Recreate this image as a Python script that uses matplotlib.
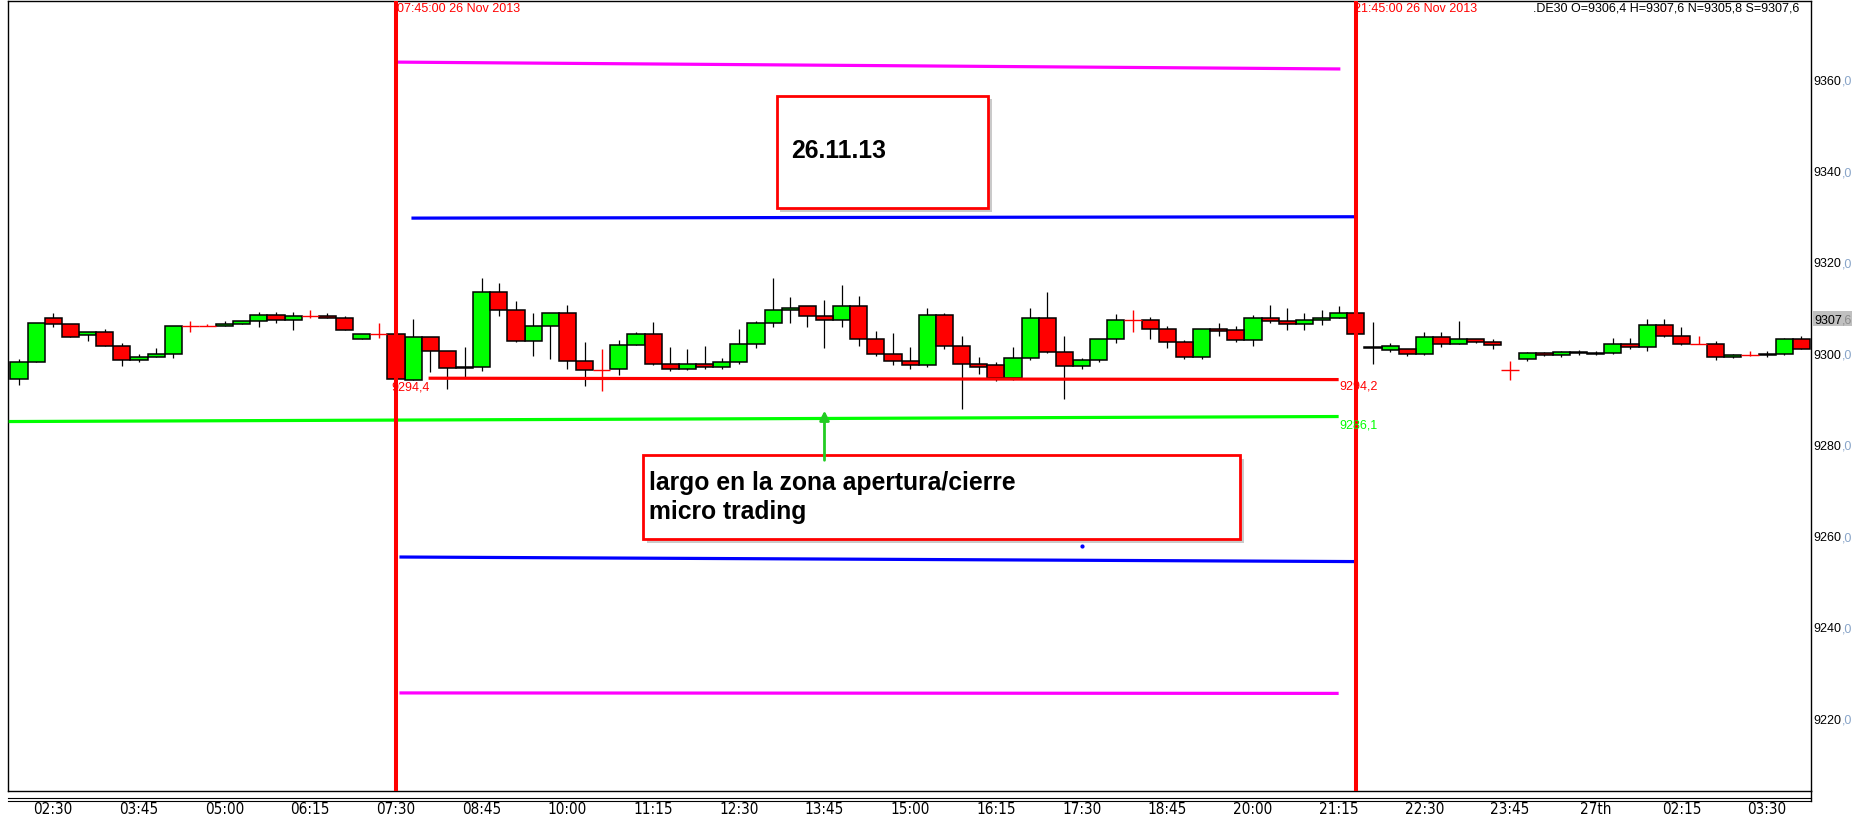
import numpy as np
import matplotlib
matplotlib.use('Agg')
import matplotlib.pyplot as plt
import matplotlib.transforms as mtransforms
from matplotlib.patches import Rectangle
from matplotlib.lines import Line2D
from matplotlib import font_manager

plt.rcParams['font.family'] = ['Liberation Sans', 'DejaVu Sans']

##! Data: DE30 15-minute bars, 26 Nov 2013 02:15 -> 27 Nov 03:45
opens = [9294.3, 9298.0, 9307.6, 9306.4, 9304.0, 9304.6, 9301.5, 9298.6, 9299.1, 9299.7,
         9305.9, 9305.9, 9305.9, 9306.4, 9307.0, 9308.3, 9307.2, 9308.1, 9308.1, 9307.6,
         9303.2, 9304.1, 9304.1, 9294.1, 9303.5, 9300.4, 9296.9, 9296.9, 9313.3, 9309.4,
         9302.7, 9305.9, 9308.7, 9298.2, 9296.3, 9296.6, 9301.8, 9304.3, 9297.7, 9296.6,
         9297.6, 9297.0, 9298.0, 9301.9, 9306.6, 9309.4, 9310.3, 9308.2, 9307.2, 9310.3,
         9303.0, 9299.7, 9298.3, 9297.4, 9308.3, 9301.5, 9297.6, 9297.4, 9294.6, 9299.0,
         9307.8, 9300.3, 9297.2, 9298.6, 9303.2, 9307.2, 9307.2, 9305.3, 9302.4, 9299.2,
         9305.2, 9305.1, 9302.8, 9307.8, 9307.0, 9306.3, 9307.2, 9307.8, 9308.7, 9301.4,
         9300.6, 9300.8, 9299.8, 9303.5, 9302.1, 9303.0, 9302.4, 9296.4, 9298.7, 9300.0,
         9299.6, 9300.2, 9299.8, 9300.1, 9301.9, 9301.3, 9306.1, 9303.8, 9301.9, 9301.9,
         9299.2, 9299.5, 9299.5, 9299.7, 9303.2]
highs = [9298.7, 9306.6, 9308.8, 9306.4, 9304.6, 9305.3, 9302.2, 9299.8, 9301.1, 9305.9,
         9307.0, 9306.4, 9307.0, 9307.0, 9309.1, 9309.0, 9309.1, 9309.5, 9308.8, 9308.1,
         9304.1, 9306.7, 9304.1, 9307.5, 9303.5, 9300.4, 9301.3, 9316.5, 9315.4, 9311.4,
         9308.8, 9308.9, 9310.5, 9302.5, 9300.9, 9302.9, 9304.7, 9306.8, 9301.3, 9301.0,
         9301.6, 9299.0, 9305.3, 9307.0, 9316.5, 9312.3, 9310.3, 9311.6, 9314.9, 9312.5,
         9304.8, 9304.4, 9301.3, 9309.9, 9308.7, 9303.8, 9299.2, 9298.0, 9301.3, 9309.9,
         9313.3, 9303.7, 9298.9, 9303.2, 9308.6, 9309.5, 9307.9, 9305.9, 9302.9, 9305.2,
         9306.6, 9305.9, 9308.3, 9310.5, 9309.9, 9308.8, 9309.5, 9310.3, 9308.9, 9306.8,
         9302.2, 9301.0, 9304.6, 9304.6, 9307.0, 9303.1, 9303.1, 9298.2, 9300.3, 9300.2,
         9300.4, 9300.6, 9300.5, 9303.3, 9303.3, 9307.5, 9307.5, 9305.7, 9303.8, 9302.6,
         9299.8, 9300.5, 9300.4, 9303.4, 9303.7]
lows = [9293.0, 9298.0, 9305.8, 9303.5, 9302.7, 9301.5, 9297.2, 9298.0, 9299.1, 9299.0,
        9304.6, 9305.9, 9305.9, 9306.4, 9305.8, 9306.5, 9305.1, 9307.7, 9307.6, 9305.1,
        9303.2, 9303.4, 9294.4, 9294.1, 9295.8, 9292.1, 9294.7, 9296.1, 9308.2, 9302.4,
        9299.4, 9298.7, 9296.5, 9292.7, 9291.8, 9295.1, 9301.8, 9297.3, 9296.0, 9296.2,
        9296.5, 9296.6, 9297.6, 9301.2, 9305.8, 9306.7, 9305.8, 9301.2, 9305.8, 9301.6,
        9299.3, 9297.5, 9296.5, 9296.9, 9301.0, 9287.8, 9295.5, 9293.9, 9294.2, 9298.5,
        9300.0, 9289.9, 9296.5, 9298.0, 9302.2, 9304.7, 9303.1, 9301.2, 9298.8, 9298.8,
        9303.8, 9302.5, 9301.6, 9306.6, 9305.1, 9305.1, 9306.2, 9307.8, 9304.3, 9297.6,
        9300.2, 9299.4, 9299.5, 9301.4, 9302.0, 9302.2, 9300.9, 9294.0, 9298.2, 9299.3,
        9299.2, 9299.6, 9299.5, 9299.8, 9301.0, 9300.5, 9303.6, 9301.7, 9301.9, 9298.6,
        9298.9, 9299.3, 9299.2, 9299.5, 9300.8]
closes = [9298.0, 9306.6, 9306.4, 9303.5, 9304.6, 9301.5, 9298.6, 9299.1, 9299.7, 9305.9,
          9305.9, 9305.9, 9306.4, 9307.0, 9308.3, 9307.2, 9308.1, 9308.1, 9307.6, 9305.1,
          9304.1, 9304.1, 9294.4, 9303.5, 9300.4, 9296.7, 9296.7, 9313.5, 9309.4, 9302.7,
          9305.9, 9308.7, 9298.2, 9296.3, 9296.3, 9301.8, 9304.3, 9297.7, 9296.6, 9297.6,
          9297.0, 9298.0, 9301.9, 9306.7, 9309.4, 9310.0, 9308.2, 9307.2, 9310.3, 9303.0,
          9299.7, 9298.3, 9297.4, 9308.3, 9301.5, 9297.6, 9296.9, 9294.6, 9299.0, 9307.8,
          9300.3, 9297.2, 9298.6, 9303.0, 9307.2, 9307.2, 9305.3, 9302.4, 9299.2, 9305.2,
          9304.8, 9302.8, 9307.8, 9307.0, 9306.3, 9307.2, 9307.8, 9308.7, 9304.3, 9301.2,
          9301.6, 9299.8, 9303.5, 9302.1, 9303.0, 9302.4, 9301.7, 9296.4, 9300.0, 9299.6,
          9300.2, 9300.0, 9300.1, 9301.9, 9301.3, 9306.1, 9303.8, 9301.9, 9301.9, 9299.2,
          9299.5, 9299.5, 9299.8, 9303.2, 9301.0]

xtick_pos = list(range(2, 105, 5))
xtick_labels = ['02:30', '03:45', '05:00', '06:15', '07:30', '08:45', '10:00', '11:15',
                '12:30', '13:45', '15:00', '16:15', '17:30', '18:45', '20:00', '21:15',
                '22:30', '23:45', '27th', '02:15', '03:30']
ytick_vals = [9220, 9240, 9260, 9280, 9300, 9320, 9340, 9360]

session_bars = [22, 78]
session_text = ['07:45:00 26 Nov 2013', '21:45:00 26 Nov 2013']

# hand-drawn levels: (bar start, bar end), (price start, price end)
lvl_magenta_top = ([22.06, 77.1], [9363.8, 9362.3])
lvl_blue_top = ([22.9, 78.0], [9329.6, 9329.9])
lvl_red = ([23.9, 77.0], [9294.5, 9294.2])
lvl_green = ([-0.6, 77.0], [9285.0, 9286.1])
lvl_blue_bot = ([22.2, 77.9], [9255.3, 9254.3])
lvl_magenta_bot = ([22.2, 77.0], [9225.5, 9225.4])

last_price = 9307.6
info_text = '.DE30 O=9306,4 H=9307,6 N=9305,8 S=9307,6'
note_date = '26.11.13'
note_lines = ['largo en la zona apertura/cierre', 'micro trading']

##! Figure
W, H = 1857, 820
fig = plt.figure(figsize=(W / 100, H / 100), dpi=100)
ax = fig.add_axes([8 / W, 28 / H, 1803 / W, 790 / H])
ax.set_xlim(-0.64, 104.56)
ax.set_ylim(9204.0, 9377.2)
for sp in ax.spines.values():
    sp.set_linewidth(1.0)

o = np.array(opens); h = np.array(highs); l = np.array(lows); c = np.array(closes)
x = np.arange(len(o))
doji = o == c
up = c > o
dn = c < o

#-- candles
ax.vlines(x[~doji], l[~doji], h[~doji], color='black', lw=0.9, zorder=2)
ax.bar(x[up], (c - o)[up], bottom=o[up], width=1.0, color='#00ff00',
       edgecolor='black', lw=1.1, zorder=3)
ax.bar(x[dn], (o - c)[dn], bottom=c[dn], width=1.0, color='#ff0000',
       edgecolor='black', lw=1.1, zorder=3)
ax.vlines(x[doji], l[doji], h[doji], color='#ff0000', lw=1.0, zorder=3)
ax.hlines(c[doji], x[doji] - 0.5, x[doji] + 0.5, color='#ff0000', lw=1.0, zorder=3)

#-- levels
for lv, col in [(lvl_magenta_top, '#ff00ff'), (lvl_blue_top, '#0000ff'),
                (lvl_red, '#ff0000'), (lvl_green, '#00ff00'),
                (lvl_blue_bot, '#0000ff'), (lvl_magenta_bot, '#ff00ff')]:
    ax.plot(lv[0], lv[1], color=col, lw=2.3, solid_capstyle='butt', zorder=4)

ax.text(21.7, 9292.6, '9294,4', color='#ff0000', fontsize=9, va='center', ha='left', zorder=6)
ax.text(77.05, 9292.8, '9294,2', color='#ff0000', fontsize=9, va='center', ha='left', zorder=6)
ax.text(77.05, 9284.4, '9286,1', color='#00ff00', fontsize=9, va='center', ha='left', zorder=6)

#-- session lines
xtr = ax.get_xaxis_transform()
for b, t, dx in zip(session_bars, session_text, [0.08, -0.1]):
    ax.axvline(b, color='#ff0000', lw=2.9, zorder=5)
    ax.text(b + dx, 0.999, t, transform=xtr, color='#ff0000', fontsize=9,
            va='top', ha='left', zorder=6)
ax.text(0.9933, 0.999, info_text, transform=ax.transAxes, fontsize=9,
        va='top', ha='right')

#-- note boxes
def note_box(x0, y0, w, hgt):
    ax.add_patch(Rectangle((x0 + 0.22, y0 - 0.8), w, hgt, facecolor='#a0a0a0',
                           edgecolor='none', alpha=0.55, zorder=6))
    ax.add_patch(Rectangle((x0, y0), w, hgt, facecolor='white',
                           edgecolor='#ff0000', lw=2.0, zorder=7))

note_box(44.21, 9331.75, 12.35, 24.68)
ax.text(45.03, 9345.1, note_date, fontsize=17.8, fontweight='bold',
        va='center_baseline', ha='left', zorder=8)
note_box(36.42, 9259.24, 34.82, 18.42)
ax.text(36.76, 9272.2, note_lines[0], fontsize=17.8, fontweight='bold',
        va='center_baseline', ha='left', zorder=8)
ax.text(36.76, 9265.97, note_lines[1], fontsize=17.8, fontweight='bold',
        va='center_baseline', ha='left', zorder=8)

ax.annotate('', xy=(47.0, 9288.0), xytext=(47.0, 9275.9),
            arrowprops=dict(arrowstyle='-|>', color='#22cc22', lw=2.0,
                            mutation_scale=14), zorder=9)
ax.plot([62], [9257.7], marker='o', ms=2, color='#0000ff', zorder=4)

#-- y axis (right)
ax.yaxis.tick_right()
ax.set_yticks(ytick_vals)
ax.set_yticklabels([str(v) for v in ytick_vals], fontsize=9)
ax.tick_params(axis='y', length=0, pad=2)
ytr = ax.get_yaxis_transform()
dec_tr = mtransforms.offset_copy(ytr, fig=fig, x=31, y=0, units='dots')
for v in ytick_vals:
    ax.text(1.0, v, ',0', transform=dec_tr, color='#88a4c8', fontsize=9,
            va='center_baseline', ha='left', clip_on=False)
ax.add_patch(Rectangle((1.0011, last_price - 1.65), 0.0217, 3.3, transform=ytr,
                       facecolor='#c0c0c0', edgecolor='none', clip_on=False, zorder=5))
num_tr = mtransforms.offset_copy(ytr, fig=fig, x=3, y=0, units='dots')
ax.text(1.0, last_price, '9307', transform=num_tr, fontsize=9,
        va='center_baseline', ha='left', clip_on=False, zorder=6)
ax.text(1.0, last_price, ',6', transform=dec_tr, fontsize=9, color='#8c8c8c',
        va='center_baseline', ha='left', clip_on=False, zorder=6)

#-- x axis
names = {f.name for f in font_manager.fontManager.ttflist}
xfam = 'Liberation Sans Narrow' if 'Liberation Sans Narrow' in names else 'DejaVu Sans'
ax.set_xticks(xtick_pos)
ax.set_xticklabels(xtick_labels, fontsize=11, family=xfam, fontstretch='condensed')
ax.tick_params(axis='x', length=0, pad=7)
for yy in [799, 801.5]:
    fig.add_artist(Line2D([8 / W, 1811 / W], [(H - yy) / H] * 2, color='black',
                          lw=0.8, transform=fig.transFigure))
fig.add_artist(Line2D([1811 / W] * 2, [(H - 792) / H, (H - 801.5) / H], color='black',
                      lw=1.0, transform=fig.transFigure))

fig.savefig('out.png', dpi=100)
